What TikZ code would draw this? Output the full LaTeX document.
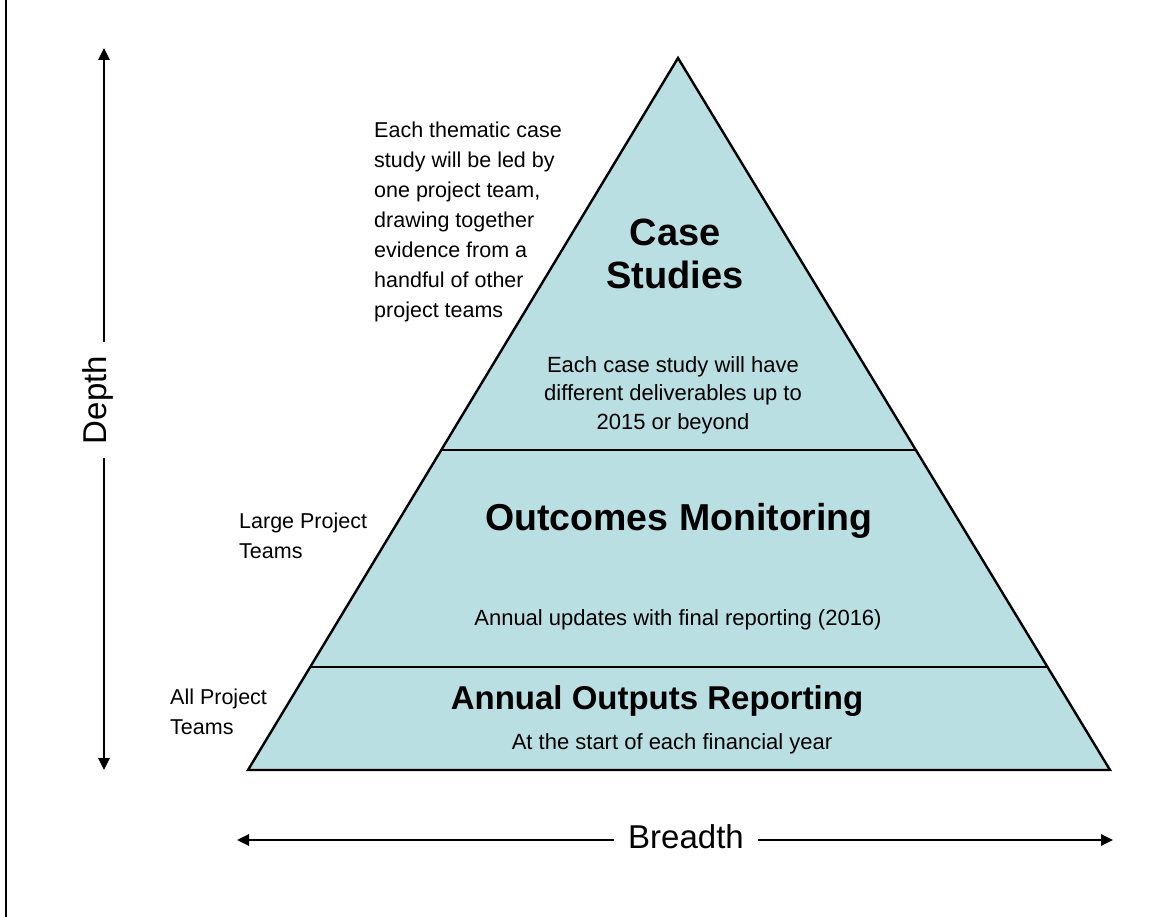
\documentclass[tikz,border=0pt]{standalone}
\usepackage{fontspec}
\setmainfont{Liberation Sans}
\usetikzlibrary{calc,arrows.meta}
\definecolor{layerfill}{HTML}{BADFE3}
\tikzset{
  outline/.style={draw=black, line width=2.4pt, line join=miter},
  divider/.style={draw=black, line width=2.6pt},
  axisarrow/.style={draw=black, line width=2.6pt, -{Triangle[length=12pt,width=11pt]}},
  heading/.style={font=\bfseries\fontsize{#1}{#1}\selectfont, inner sep=0pt},
  bodytxt/.style={font=\fontsize{22}{28.5}\selectfont, inner sep=0pt, align=center},
  sidetxt/.style={font=\fontsize{21.5}{30}\selectfont, inner sep=0pt, align=left},
  axislabel/.style={font=\fontsize{33}{33}\selectfont, inner sep=14pt}
}
\begin{document}
\begin{tikzpicture}[x=1pt,y=-1pt]
\useasboundingbox (0,0) rectangle (1164,917);
\draw[line width=1.4pt] (6,0) -- (6,917);
% pyramid corners
\coordinate (apex) at (678,58);
\coordinate (bl) at (248,770);
\coordinate (br) at (1110,770);
\coordinate (ul) at ($(apex)!0.5506!(bl)$);
\coordinate (ur) at ($(apex)!0.5506!(br)$);
\coordinate (ll) at ($(apex)!0.8553!(bl)$);
\coordinate (lr) at ($(apex)!0.8553!(br)$);
\fill[layerfill] (apex) -- (bl) -- (br) -- cycle;
\draw[divider] (ul) -- (ur);
\draw[divider] (ll) -- (lr);
\draw[outline] (apex) -- (bl) -- (br) -- cycle;
% texts inside
\node[heading=38, align=center, anchor=north, font=\bfseries\fontsize{38}{43}\selectfont] (cs) at (675,219) {Case\\Studies};
\node[bodytxt, anchor=north] (csd) at (673,356) {Each case study will have\\different deliverables up to\\2015 or beyond};
\node[heading=37.5, anchor=base] (om) at (679,530) {Outcomes Monitoring};
\node[bodytxt, anchor=base] (omd) at (678,625) {Annual updates with final reporting (2016)};
\node[heading=33, anchor=base] (aor) at (657,709) {Annual Outputs Reporting};
\node[bodytxt, anchor=base] (aord) at (672,749) {At the start of each financial year};
% side texts
\node[sidetxt, anchor=north west] (thematic) at (374,122) {Each thematic case\\study will be led by\\one project team,\\drawing together\\evidence from a\\handful of other\\project teams};
\node[sidetxt, anchor=north west] (large) at (239,513) {Large Project\\Teams};
\node[sidetxt, anchor=north west] (all) at (170,689) {All Project\\Teams};
% axes
\node[axislabel, rotate=90] (depth) at (98,400) {Depth};
\coordinate (dtop) at (104,48);
\coordinate (dbot) at (104,770);
\draw[axisarrow] (dtop |- depth.east) -- (dtop);
\draw[axisarrow] (dbot |- depth.west) -- (dbot);
\node[axislabel, anchor=base] (breadth) at (686,848) {Breadth};
\coordinate (bleft) at (237,840);
\coordinate (bright) at (1113,840);
\draw[axisarrow] (bleft -| breadth.west) -- (bleft);
\draw[axisarrow] (bright -| breadth.east) -- (bright);
\end{tikzpicture}
\end{document}
